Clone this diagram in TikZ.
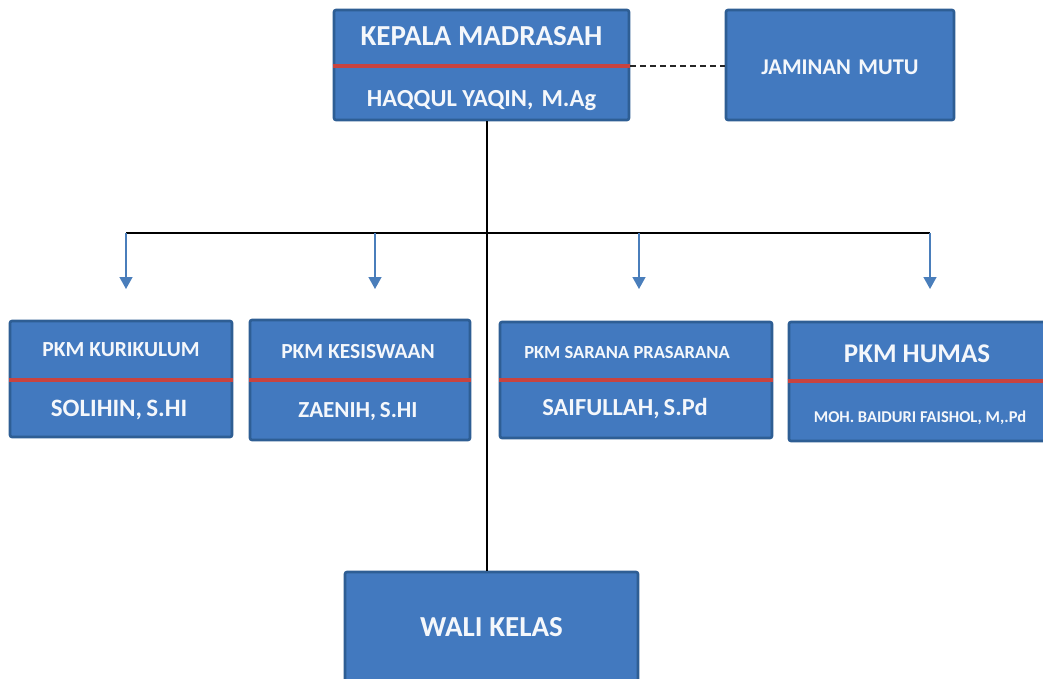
\documentclass[tikz,border=0pt]{standalone}
\usepackage{fontspec}
\setmainfont{Carlito}
\usetikzlibrary{arrows.meta,calc}
\definecolor{boxfill}{HTML}{4279BF}
\definecolor{boxedge}{HTML}{2E5E94}
\definecolor{redline}{HTML}{C8433F}
\definecolor{arrowblue}{HTML}{4A7EBB}
\definecolor{txt}{HTML}{F4F7FB}
\tikzset{
  orgbox/.style={draw=boxedge, line width=2.6pt, fill=boxfill, rounded corners=2pt, inner sep=0pt},
  divider/.style={draw=redline, line width=3.2pt},
  boxtext/.style={text=txt, font=\bfseries, inner sep=0pt, anchor=center},
  trunk/.style={draw=black, line width=1.6pt},
  down/.style={draw=arrowblue, line width=1.4pt, -{Triangle[width=13pt,length=12pt]}},
  dashline/.style={draw=black!85, line width=1.6pt, dash pattern=on 6pt off 4pt}
}
\begin{document}
\begin{tikzpicture}[x=1pt,y=-1pt]
\useasboundingbox (0,0) rectangle (1043,679);
% top row
\node[orgbox, minimum width=295pt, minimum height=110pt] (top) at (481.5,65) {};
\node[orgbox, minimum width=228pt, minimum height=110pt] (jm) at (840,65) {};
\draw[divider] (top.west |- 0,66) -- (top.east |- 0,66);
\node[boxtext, font=\bfseries\fontsize{29}{31}\selectfont] (topt) at (481.5,36) {KEPALA MADRASAH};
\node[boxtext, font=\bfseries\fontsize{24.5}{27}\selectfont] (topn) at (481.5,101) {HAQQUL YAQIN,\,\,M.Ag};
\node[boxtext, font=\bfseries\fontsize{22.5}{25}\selectfont] (jmt) at (840,67) {JAMINAN\,\,MUTU};
\coordinate (dashA) at (629,66);
\draw[dashline] (top.east |- dashA) -- (jm.west |- dashA);
% wali kelas
\node[orgbox, minimum width=293pt, minimum height=120pt] (wali) at (491.5,632) {};
\node[boxtext, font=\bfseries\fontsize{29}{31}\selectfont] (walit) at (491.5,627) {WALI KELAS};
% trunk
\coordinate (j) at (487,233);
\draw[trunk] (j |- top.south) -- (j |- wali.north);
\coordinate (a1) at (126,233);
\coordinate (a2) at (375,233);
\coordinate (a3) at (639,233);
\coordinate (a4) at (930,233);
\draw[trunk] (a1) -- (a4);
\coordinate (t1) at (126,289);
\coordinate (t2) at (375,289);
\coordinate (t3) at (639,289);
\coordinate (t4) at (930,289);
\draw[down] (a1) -- (t1);
\draw[down] (a2) -- (t2);
\draw[down] (a3) -- (t3);
\draw[down] (a4) -- (t4);
% second row boxes
\node[orgbox, minimum width=222pt, minimum height=116pt] (b1) at (121,379) {};
\node[orgbox, minimum width=220pt, minimum height=120pt] (b2) at (360,380) {};
\node[orgbox, minimum width=272pt, minimum height=116pt] (b3) at (636,380) {};
\node[orgbox, minimum width=262pt, minimum height=119pt] (b4) at (920,381.5) {};
\draw[divider] (b1.west |- 0,380) -- (b1.east |- 0,380);
\draw[divider] (b2.west |- 0,380) -- (b2.east |- 0,380);
\draw[divider] (b3.west |- 0,380) -- (b3.east |- 0,380);
\draw[divider] (b4.west |- 0,381) -- (b4.east |- 0,381);
\node[boxtext, font=\bfseries\fontsize{21.5}{24}\selectfont] (b1t) at (121,350) {PKM KURIKULUM};
\node[boxtext, font=\bfseries\fontsize{25}{28}\selectfont] (b1n) at (119,410) {SOLIHIN,\,S.HI};
\node[boxtext, font=\bfseries\fontsize{21.5}{24}\selectfont] (b2t) at (358,352) {PKM KESISWAAN};
\node[boxtext, font=\bfseries\fontsize{23}{26}\selectfont] (b2n) at (358,412) {ZAENIH,\,S.HI};
\node[boxtext, font=\bfseries\fontsize{18.5}{20}\selectfont] (b3t) at (627,352) {PKM SARANA PRASARANA};
\node[boxtext, font=\bfseries\fontsize{24.5}{27}\selectfont] (b3n) at (625,409) {SAIFULLAH,\,S.Pd};
\node[boxtext, font=\bfseries\fontsize{27}{30}\selectfont] (b4t) at (917,354) {PKM HUMAS};
\node[boxtext, font=\bfseries\fontsize{16.5}{18}\selectfont] (b4n) at (920,418) {MOH. BAIDURI FAISHOL, M,.Pd};
\end{tikzpicture}
\end{document}
